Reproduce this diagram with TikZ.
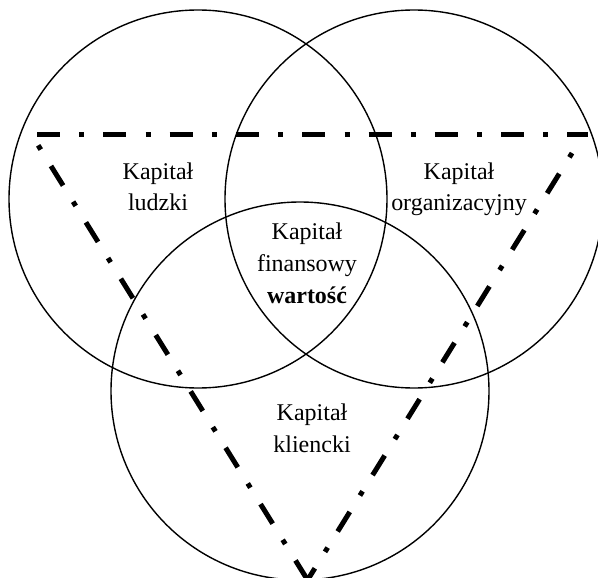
\documentclass[tikz,border=0pt]{standalone}
\usepackage{fontspec}
\setmainfont{Liberation Serif}
\begin{document}
\begin{tikzpicture}[x=1pt,y=-1pt,
  ring/.style={draw=black,line width=1.4pt},
  dashdot/.style={draw=black,line width=5pt,line cap=butt,
    dash pattern=on 23pt off 19.3pt on 5pt off 19pt},
  label/.style={font=\fontsize{24}{32}\selectfont,align=center,
    anchor=base,inner sep=0pt}]
  \useasboundingbox (0,0) rectangle (598,578);
  \begin{scope}
    \clip (0,0) rectangle (598,578);
    % three overlapping capitals
    \node[ring,circle,minimum size=378pt,inner sep=0pt] (human) at (198,199) {};
    \node[ring,circle,minimum size=378pt,inner sep=0pt] (org) at (414,199) {};
    \node[ring,circle,minimum size=378pt,inner sep=0pt] (client) at (300,391) {};
    % value triangle
    \coordinate (tl) at (37,135);
    \coordinate (tr) at (588,135);
    \coordinate (lt) at (33,137);
    \coordinate (rt) at (582,137);
    \coordinate (apex) at (307.6,580);
    \draw[dashdot] (tl) -- (tr);
    \draw[dashdot] (apex) -- (lt);
    \draw[dashdot,dash phase=9.2pt] (apex) -- (rt);
  \end{scope}
  % labels (placed by the baseline of their last line)
  \node[label] (tludzki) at (158,211) {Kapitał\\ludzki};
  \node[label] (torg) at (459,211) {Kapitał\\organizacyjny};
  \node[label] (tfin) at (307,303) {Kapitał\\finansowy\\\textbf{wartość}};
  \node[label] (tklient) at (312,452) {Kapitał\\kliencki};
\end{tikzpicture}
\end{document}
